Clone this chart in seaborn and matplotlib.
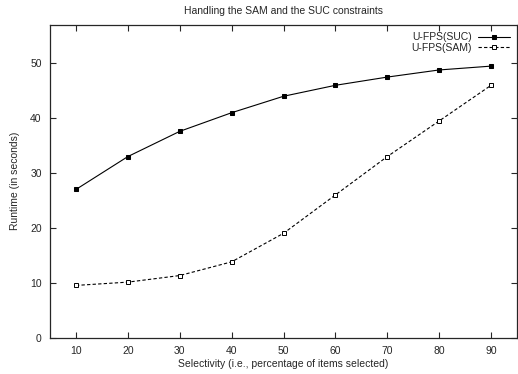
import numpy as np
import pandas as pd
from matplotlib import pyplot as plt
import seaborn as sns

sns.set_style('ticks')
plt.rcParams['font.family'] = ['Liberation Sans', 'DejaVu Sans']

selectivity = [10, 20, 30, 40, 50, 60, 70, 80, 90]
suc_runtime = [27.0, 33.0, 37.6, 41.0, 44.0, 46.0, 47.5, 48.8, 49.5]
sam_runtime = [9.5, 10.1, 11.3, 13.8, 19.0, 26.0, 33.0, 39.5, 46.0]

fig = plt.figure(figsize=(5.18, 3.74), dpi=100)
ax = fig.add_axes([50/518, 36.5/374, 467/518, 312.5/374])

#solid line, filled squares
sns.lineplot(x=selectivity, y=suc_runtime, ax=ax, color='black', linewidth=0.8,
             marker='s', markersize=3.2, markerfacecolor='black', markeredgecolor='black',
             label='U-FPS(SUC)')
#dashed line, open squares
sns.lineplot(x=selectivity, y=sam_runtime, ax=ax, color='black', linewidth=0.8,
             linestyle=(0, (3, 2)), marker='s', markersize=3.2, markerfacecolor='white',
             markeredgecolor='black', markeredgewidth=0.7, label='U-FPS(SAM)')

ax.set_xlim(5, 95)
ax.set_ylim(0, 57)
ax.set_xticks(selectivity)
ax.set_yticks([0, 10, 20, 30, 40, 50])
ax.tick_params(direction='in', top=True, right=True, length=4, width=0.8, labelsize=7.5, pad=6)
for s in ax.spines.values():
    s.set_visible(True)
    s.set_linewidth(0.9)

ax.set_xlabel('Selectivity (i.e., percentage of items selected)', fontsize=7.5, labelpad=2)
ax.set_ylabel('Runtime (in seconds)', fontsize=7.5, labelpad=7)
ax.set_title('Handling the SAM and the SUC constraints', fontsize=7.5, pad=8)

ax.legend(loc='upper right', frameon=False, markerfirst=False, fontsize=7.5,
          handlelength=3, handletextpad=0.6, labelspacing=0.05,
          borderaxespad=0.3)

plt.savefig('out.png', dpi=100)
